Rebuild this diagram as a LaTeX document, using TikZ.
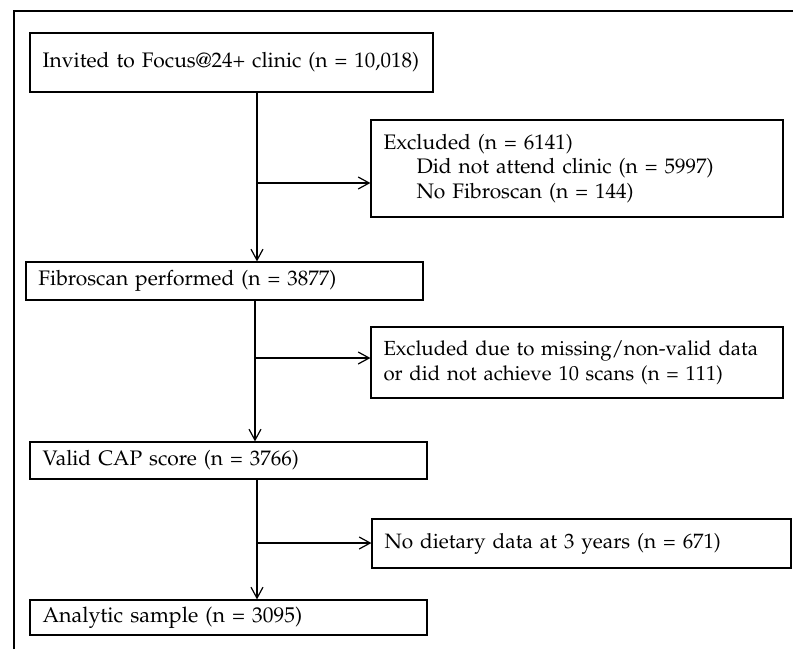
\documentclass[tikz,border=0pt]{standalone}
\usepackage[T1]{fontenc}
\usepackage{mathpazo}
\usepackage{tikz}
\usetikzlibrary{arrows.meta}

\tikzset{
  flowbox/.style={draw, line width=0.6pt, inner xsep=6.25pt, inner ysep=0pt, align=left, font=\fontsize{10.5}{12.4}\selectfont},
  flowline/.style={line width=0.6pt, -{Straight Barb[length=5.5pt,width=6pt]}}
}

\begin{document}
\begin{tikzpicture}[x=0.5pt,y=-0.5pt]
\useasboundingbox (0,0) rectangle (793,649);

% outer frame
\draw [line width=0.6pt] (14,649) -- (14,11) -- (793,11);

\node [flowbox, text width=189pt, minimum height=29.5pt] (invite) at (231.5,62.5) {Invited to Focus@24+ clinic (n = 10,018)};
\node [flowbox, text width=193.5pt, minimum height=48.5pt] (excl1) at (577,168.5) {Excluded (n = 6141)\\\hspace*{16.5pt}Did not attend clinic (n = 5997)\\\hspace*{16.5pt}No Fibroscan (n = 144)};
\node [flowbox, text width=186pt, minimum height=19pt] (fibro) at (224.5,281) {Fibroscan performed (n = 3877)};
\node [flowbox, text width=193.5pt, minimum height=35.5pt, font=\fontsize{10.2}{12.5}\selectfont] (excl2) at (577,362.5) {Excluded due to missing/non-valid data\\or did not achieve 10 scans (n = 111)};
\node [flowbox, text width=186pt, minimum height=18.5pt] (cap) at (228.5,460.5) {Valid CAP score (n = 3766)};
\node [flowbox, text width=197pt, minimum height=24.5pt, font=\fontsize{10.4}{12.4}\selectfont] (excl3) at (581.5,543.5) {No dietary data at 3 years (n = 671)};
\node [flowbox, text width=186pt, minimum height=17.5pt, font=\fontsize{10.7}{12.4}\selectfont] (sample) at (228.5,617.5) {Analytic sample (n = 3095)};

\coordinate (b1) at (257,183);
\coordinate (b2) at (255,358);
\coordinate (b3) at (257,543);

\draw [flowline] (invite.south -| b1) -- (fibro.north -| b1);
\draw [flowline] (b1) -- (b1 -| excl1.west);
\draw [flowline] (fibro.south -| b2) -- (cap.north -| b2);
\draw [flowline] (b2) -- (b2 -| excl2.west);
\draw [flowline] (cap.south -| b3) -- (sample.north -| b3);
\draw [flowline] (b3) -- (b3 -| excl3.west);

\end{tikzpicture}
\end{document}
